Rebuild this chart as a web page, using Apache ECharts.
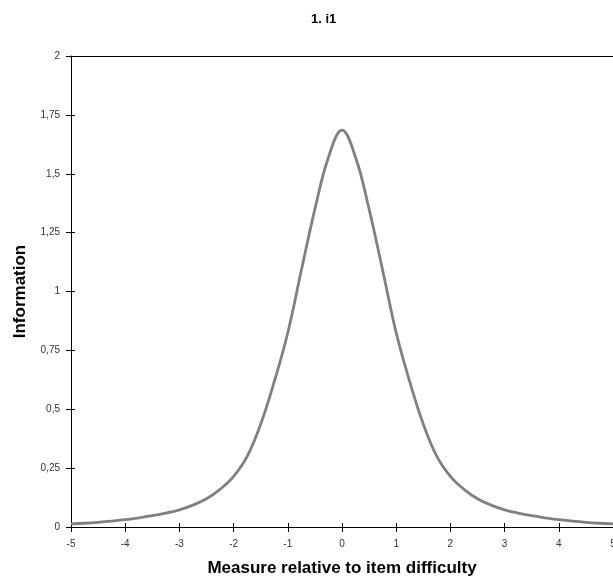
<!DOCTYPE html>
<html>
<head>
<meta charset="utf-8">
<script src="https://cdn.jsdelivr.net/npm/echarts@6/dist/echarts.min.js"></script>
<style>html,body{margin:0;padding:0;background:#fff;}#c{width:613px;height:582px;}</style>
</head>
<body>
<div id="c"></div>
<script>
var titleText = "1. i1";
var xName = "Measure relative to item difficulty";
var yName = "Information";
var measures = [-5,-4.75,-4.5,-4.25,-4,-3.75,-3.5,-3.25,-3,-2.75,-2.5,-2.25,-2,-1.75,-1.5,-1.25,-1,-0.75,-0.5,-0.25,0,0.25,0.5,0.75,1,1.25,1.5,1.75,2,2.25,2.5,2.75,3,3.25,3.5,3.75,4,4.25,4.5,4.75,5];
var information = [0.013,0.016,0.02,0.025,0.031,0.039,0.048,0.059,0.073,0.093,0.12,0.16,0.215,0.30,0.437,0.617,0.825,1.09,1.35,1.57,1.685,1.57,1.35,1.09,0.825,0.617,0.437,0.30,0.215,0.16,0.12,0.093,0.073,0.059,0.048,0.039,0.031,0.025,0.02,0.016,0.013];

var pts = measures.map(function(m,i){return [m, information[i]];});
var font = "Arial, 'Liberation Sans', sans-serif";
var chart = echarts.init(document.getElementById('c'), null, {renderer:'canvas'});
function fmt(v){return String(v).replace('.', ',');}
chart.setOption({
  animation:false,
  backgroundColor:'#fff',
  title:{text:titleText,left:306,top:8,textStyle:{fontFamily:font,fontSize:13,fontWeight:'bold',color:'#000'}},
  grid:{left:71,right:0,top:56,bottom:55,containLabel:false,outerBoundsMode:'none'},
  xAxis:[
    {type:'value',min:-5,max:5,interval:1,position:'bottom',
     name:xName,nameLocation:'middle',nameGap:33,
     nameTextStyle:{fontFamily:font,fontSize:17,fontWeight:'bold',color:'#000'},
     axisLine:{show:true,onZero:false,lineStyle:{color:'#000',width:1}},
     axisTick:{show:true,length:5,lineStyle:{color:'#000'}},
     axisLabel:{fontFamily:font,fontSize:10,color:'#333',margin:12,formatter:fmt,showMaxLabel:true,showMinLabel:true},
     splitLine:{show:false}},
    {type:'value',min:-5,max:5,interval:1,position:'bottom',
     axisLine:{show:false,onZero:false},axisTick:{show:true,inside:true,length:4,lineStyle:{color:'#000'}},
     axisLabel:{show:false},splitLine:{show:false}},
    {type:'value',min:-5,max:5,interval:1,position:'top',
     axisLine:{show:true,onZero:false,lineStyle:{color:'#000',width:1}},axisTick:{show:false},
     axisLabel:{show:false},splitLine:{show:false}}
  ],
  yAxis:[
    {type:'value',min:0,max:2,interval:0.25,position:'left',
     name:yName,nameLocation:'middle',nameGap:42,nameRotate:90,
     nameTextStyle:{fontFamily:font,fontSize:17,fontWeight:'bold',color:'#000'},
     axisLine:{show:true,onZero:false,lineStyle:{color:'#000',width:1}},
     axisTick:{show:true,length:5,lineStyle:{color:'#000'}},
     axisLabel:{fontFamily:font,fontSize:10,color:'#333',margin:11,formatter:fmt},
     splitLine:{show:false}},
    {type:'value',min:0,max:2,interval:0.25,position:'left',
     axisLine:{show:false,onZero:false},axisTick:{show:true,inside:true,length:4,lineStyle:{color:'#000'}},
     axisLabel:{show:false},splitLine:{show:false}}
  ],
  series:[{
    type:'line',xAxisIndex:0,yAxisIndex:0,data:pts,smooth:0.4,showSymbol:false,
    lineStyle:{color:'#808080',width:2.8}
  }]
});
</script>
</body>
</html>
